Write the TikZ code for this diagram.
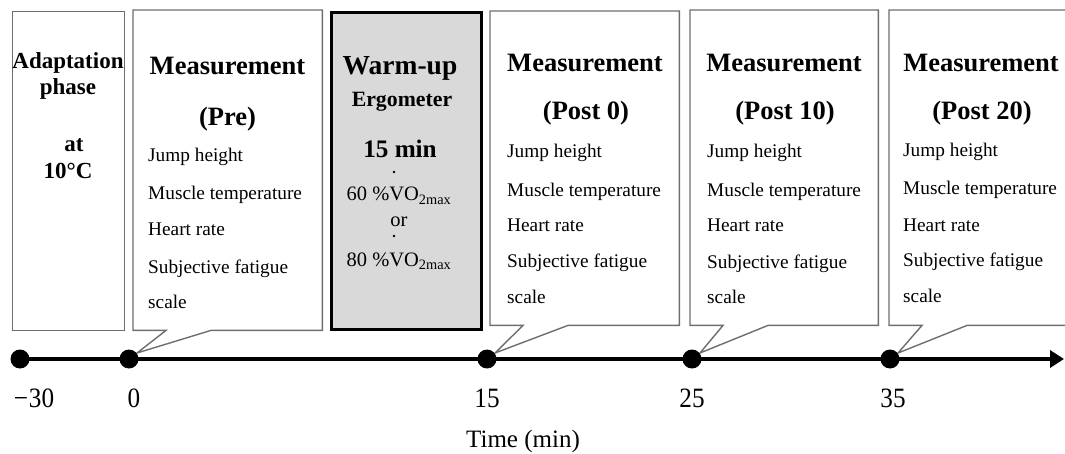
\documentclass[tikz,border=0pt]{standalone}
\usepackage{fontspec}
\setmainfont{Liberation Serif}
\newfontfamily\numfont{Liberation Serif}[FakeStretch=0.9]
\usetikzlibrary{calc,arrows.meta}
\definecolor{boxgray}{RGB}{110,110,110}
\definecolor{warmfill}{RGB}{217,217,217}
\newcommand\calloutpath[2]{%
  \draw[outline] (#1.north west) -- (#1.north east) -- (#1.south east)
    -- ($(#1.south west)+(78,0)$) -- (#2) -- ($(#1.south west)+(33,0)$)
    -- (#1.south west) -- cycle;}
\begin{document}
\begin{tikzpicture}[x=1pt,y=-1pt,
  plainbox/.style={draw=boxgray, line width=1.4pt, fill=white, inner sep=0pt, anchor=north west},
  warmbox/.style={draw=black, line width=2.6pt, fill=warmfill, inner sep=0pt, anchor=north west},
  frame/.style={inner sep=0pt, anchor=north west},
  outline/.style={draw=boxgray, line width=1.4pt, fill=white, line join=miter},
  body/.style={anchor=base west, inner sep=0pt, font=\fontsize{19.3}{21}\selectfont},
  ttl/.style={anchor=base, inner sep=0pt, font=\fontsize{26.5}{28}\selectfont\bfseries},
  adtxt/.style={anchor=base, inner sep=0pt, font=\fontsize{23}{25}\selectfont\bfseries},
  wtxt/.style={anchor=base, inner sep=0pt, font=\fontsize{20.5}{22}\selectfont},
  num/.style={anchor=base, inner sep=0pt, font=\fontsize{28}{30}\numfont},
  tdot/.style={circle, fill=black, minimum size=19pt, inner sep=0pt},
  axis/.style={line width=4.5pt, -{Triangle[length=14pt,width=17pt]}}]
\useasboundingbox (0,0) rectangle (1065,454);
\clip (0,0) rectangle (1065,454);

% timeline positions
\coordinate (p30) at (20,359);
\coordinate (p0) at (129,359);
\coordinate (p15) at (487,359);
\coordinate (p25) at (692,359);
\coordinate (p35) at (890,359);
\coordinate (axend) at (1064,359);
\coordinate (tip0) at ($(p0)+(8,-6)$);
\coordinate (tip15) at ($(p15)+(8,-6)$);
\coordinate (tip25) at ($(p25)+(8,-6)$);
\coordinate (tip35) at ($(p35)+(8,-6)$);

% boxes
\node[plainbox, minimum width=112pt, minimum height=319pt] (adapt) at (12,11) {};
\node[frame, minimum width=189pt, minimum height=320pt] (pre) at (133,10) {};
\node[warmbox, minimum width=150pt, minimum height=317pt] (warm) at (330,11) {};
\node[frame, minimum width=189pt, minimum height=314pt] (post0) at (490,11) {};
\node[frame, minimum width=188pt, minimum height=315pt] (post10) at (690,10) {};
\node[frame, minimum width=189pt, minimum height=315pt] (post20) at (889,10) {};
\calloutpath{pre}{tip0}
\calloutpath{post0}{tip15}
\calloutpath{post10}{tip25}
\calloutpath{post20}{tip35}

% adaptation text
\node[adtxt] (ad1) at (68,69) {Adaptation};
\node[adtxt] (ad2) at (68,95) {phase};
\node[adtxt] (ad3) at (74,152) {at};
\node[adtxt] (ad4) at (68,179) {10°C};

% Pre
\node[ttl] (preT) at (227.5,75) {Measurement};
\node[ttl] (preS) at (227.5,126) {(Pre)};
\node[body] (pre1) at (148,162) {Jump height};
\node[body] (pre2) at (148,200) {Muscle temperature};
\node[body] (pre3) at (148,236) {Heart rate};
\node[body] (pre4) at (148,273) {Subjective fatigue};
\node[body] (pre5) at (148,308) {scale};

% Warm-up
\node[anchor=base, inner sep=0pt, font=\fontsize{27.5}{29}\selectfont\bfseries] (w1) at (400,75) {Warm-up};
\node[anchor=base, inner sep=0pt, font=\fontsize{21.8}{23}\selectfont\bfseries] (w2) at (402,107) {Ergometer};
\node[anchor=base, inner sep=0pt, font=\fontsize{25.2}{27}\selectfont\bfseries] (w3) at (400,158) {15 min};
\fill (394,172) circle (1.3pt);
\node[wtxt] (w4) at (399,201) {60 \%VO\textsubscript{2max}};
\node[wtxt] (w5) at (399,227) {or};
\fill (394,236) circle (1.3pt);
\node[wtxt] (w6) at (399,266) {80 \%VO\textsubscript{2max}};

% Post 0
\node[ttl] (p0T) at (585,72) {Measurement};
\node[ttl] (p0S) at (586,120) {(Post 0)};
\node[body] (p01) at (507,158) {Jump height};
\node[body] (p02) at (507,197) {Muscle temperature};
\node[body] (p03) at (507,232) {Heart rate};
\node[body] (p04) at (507,268) {Subjective fatigue};
\node[body] (p05) at (507,303) {scale};

% Post 10
\node[ttl] (p10T) at (784,72) {Measurement};
\node[ttl] (p10S) at (785,120) {(Post 10)};
\node[body] (p101) at (707,158) {Jump height};
\node[body] (p102) at (707,197) {Muscle temperature};
\node[body] (p103) at (707,232) {Heart rate};
\node[body] (p104) at (707,269) {Subjective fatigue};
\node[body] (p105) at (707,303) {scale};

% Post 20
\node[ttl] (p20T) at (981,72) {Measurement};
\node[ttl] (p20S) at (982,120) {(Post 20)};
\node[body] (p201) at (903,157) {Jump height};
\node[body] (p202) at (903,195) {Muscle temperature};
\node[body] (p203) at (903,232) {Heart rate};
\node[body] (p204) at (903,267) {Subjective fatigue};
\node[body] (p205) at (903,302) {scale};

% timeline
\draw[axis] (p30) -- (axend);
\node[tdot] (d30) at (p30) {};
\node[tdot] (d0) at (p0) {};
\node[tdot] (d15) at (p15) {};
\node[tdot] (d25) at (p25) {};
\node[tdot] (d35) at (p35) {};

\node[num] (l30) at (34,407) {−\kern1pt30};
\node[num] (l0) at (134,407) {0};
\node[num] (l15) at (487,407) {15};
\node[num] (l25) at (692,407) {25};
\node[num] (l35) at (893,407) {35};
\node[anchor=base, inner sep=0pt, font=\fontsize{25}{27}\selectfont] (tlabel) at (523,447) {Time (min)};
\end{tikzpicture}
\end{document}
